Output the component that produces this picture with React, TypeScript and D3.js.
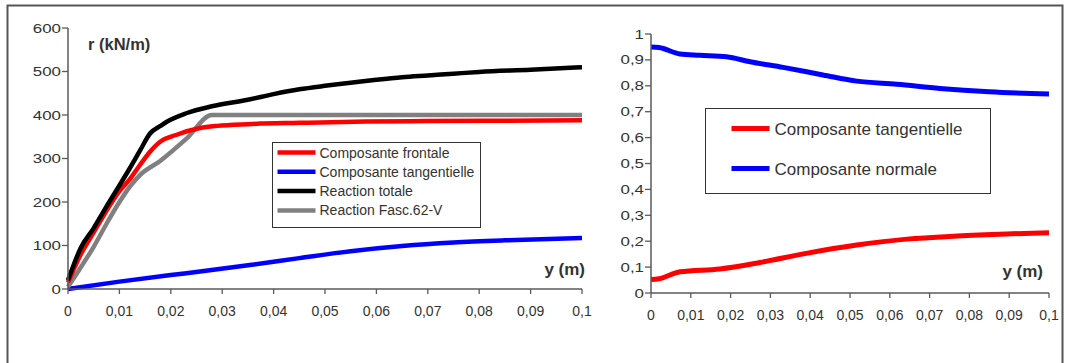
import React from 'react';
import * as d3 from 'd3';

// left panel: r (kN/m) vs y (m)
const frontX = [0, 0.0025, 0.005, 0.0075, 0.01, 0.012, 0.014, 0.016, 0.018, 0.021, 0.0257, 0.029, 0.035, 0.045, 0.058, 0.07, 0.085, 0.1];
const frontY = [15, 80, 130, 180, 225, 252, 285, 316, 339, 354, 370, 375, 379, 382, 385, 386, 387, 388];

const totalX = [0, 0.0025, 0.005, 0.0075, 0.01, 0.012, 0.014, 0.016, 0.018, 0.0193, 0.023, 0.028, 0.035, 0.04, 0.045, 0.05, 0.055, 0.06, 0.065, 0.07, 0.075, 0.08, 0.09, 0.1];
const totalY = [20, 95, 140, 190, 238, 277, 318, 358, 375, 385, 404, 420, 435, 448, 459, 467, 474, 481, 487, 491, 495, 499, 504, 510];

const fascX = [0, 0.0025, 0.005, 0.0075, 0.01, 0.012, 0.014, 0.018, 0.023, 0.028, 0.1];
const fascY = [5, 50, 97, 150, 200, 235, 262, 295, 345, 400, 400];

const tangX = [0, 0.01, 0.02, 0.0257, 0.0354, 0.045, 0.055, 0.065, 0.075, 0.085, 0.1];
const tangY = [0, 17, 32, 40, 55, 71, 87, 99, 107, 112, 117];

// right panel: ratios
const ratioNormX = [0, 0.002, 0.0073, 0.0123, 0.019, 0.0249, 0.0332, 0.0432, 0.0517, 0.0618, 0.0726, 0.085, 0.1];
const ratioNormY = [0.95, 0.948, 0.923, 0.918, 0.912, 0.893, 0.871, 0.842, 0.818, 0.806, 0.79, 0.777, 0.768];
const ratioTangX = [0, 0.002, 0.0073, 0.0173, 0.0274, 0.039, 0.0517, 0.0643, 0.0769, 0.0894, 0.1];
const ratioTangY = [0.052, 0.055, 0.082, 0.093, 0.118, 0.153, 0.185, 0.208, 0.22, 0.228, 0.233];

const xTicks = [0, 0.01, 0.02, 0.03, 0.04, 0.05, 0.06, 0.07, 0.08, 0.09, 0.1];
const leftYTicks = [0, 100, 200, 300, 400, 500, 600];
const rightYTicks = [0, 0.1, 0.2, 0.3, 0.4, 0.5, 0.6, 0.7, 0.8, 0.9, 1];

const leftLegend = [
  { label: 'Composante frontale', color: '#ff0000' },
  { label: 'Composante tangentielle', color: '#0000ff' },
  { label: 'Reaction totale', color: '#000000' },
  { label: 'Reaction Fasc.62-V', color: '#808080' },
];
const rightLegend = [
  { label: 'Composante tangentielle', color: '#ff0000' },
  { label: 'Composante normale', color: '#0000ff' },
];

const FONT = 'Liberation Sans, Arial, sans-serif';
const AXIS = '#5a5a5a';
const TEXT = '#333';

const fmt = (v: number) => String(+v.toFixed(2)).replace('.', ',');

function zip(xs: number[], ys: number[]): [number, number][] {
  return xs.map((x, i) => [x, ys[i]]);
}

interface PanelProps {
  x0: number; x1: number; y0: number; y1: number;
  yMax: number; yTicks: number[];
  series: { xs: number[]; ys: number[]; color: string }[];
  width: number;
}

function Panel({ x0, x1, y0, y1, yMax, yTicks, series, width }: PanelProps) {
  const xScale = d3.scaleLinear().domain([0, 0.1]).range([x0, x1]);
  const yScale = d3.scaleLinear().domain([0, yMax]).range([y0, y1]);
  const line = d3.line<[number, number]>()
    .x(d => xScale(d[0]))
    .y(d => yScale(d[1]))
    .curve(d3.curveMonotoneX);

  return (
    <g>
      {series.map((s, i) => (
        <path key={i} d={line(zip(s.xs, s.ys)) || ''} fill="none" stroke={s.color}
          strokeWidth={width} strokeLinejoin="round" />
      ))}
      {/* axes */}
      <line x1={x0} x2={x0} y1={y1} y2={y0} stroke={AXIS} strokeWidth={1.5} />
      <line x1={x0} x2={x1} y1={y0} y2={y0} stroke={AXIS} strokeWidth={1.5} />
      {yTicks.map(t => (
        <g key={'y' + t}>
          <line x1={x0 - 6} x2={x0} y1={yScale(t)} y2={yScale(t)} stroke={AXIS} strokeWidth={1.3} />
          <text transform={`translate(${x0 - 7},${yScale(t) + 4.5}) scale(1.3,1)`} textAnchor="end"
            fontSize={13} fill={TEXT} fontFamily={FONT}>{fmt(t)}</text>
        </g>
      ))}
      {xTicks.map(t => (
        <g key={'x' + t}>
          <line x1={xScale(t)} x2={xScale(t)} y1={y0} y2={y0 + 5} stroke={AXIS} strokeWidth={1.3} />
          <text x={xScale(t)} y={y0 + 27} textAnchor="middle" fontSize={14} fill={TEXT}
            fontFamily={FONT}>{fmt(t)}</text>
        </g>
      ))}
    </g>
  );
}

export default function App() {
  return (
    <svg width={1070} height={363} style={{ position: 'absolute', left: 0, top: 0, background: '#fff' }}>
      <rect x={7.5} y={5.5} width={1055} height={380} fill="none" stroke="#555" strokeWidth={2} />

      <Panel x0={68} x1={582} y0={289} y1={28} yMax={600} yTicks={leftYTicks} width={4.5}
        series={[
          { xs: tangX, ys: tangY, color: '#0000ff' },
          { xs: fascX, ys: fascY, color: '#808080' },
          { xs: frontX, ys: frontY, color: '#ff0000' },
          { xs: totalX, ys: totalY, color: '#000000' },
        ]} />
      <text x={88} y={50} fontSize={16.5} fontWeight="bold" fill={TEXT} fontFamily={FONT}>r (kN/m)</text>
      <text x={585} y={275} textAnchor="end" fontSize={17} fontWeight="bold" fill={TEXT} fontFamily={FONT}>y (m)</text>

      {/* left legend */}
      <g transform="translate(272.5,142.5)">
        <rect width={208} height={85} fill="#fff" stroke="#333" strokeWidth={1} />
        {leftLegend.map((item, i) => (
          <g key={item.label} transform={`translate(0,${10 + i * 19.3})`}>
            <line x1={5} x2={43} y1={0} y2={0} stroke={item.color} strokeWidth={4.5} />
            <text x={47} y={5} fontSize={14} fill={TEXT} fontFamily={FONT}>{item.label}</text>
          </g>
        ))}
      </g>

      <Panel x0={651} x1={1049} y0={293} y1={34} yMax={1} yTicks={rightYTicks} width={5}
        series={[
          { xs: ratioNormX, ys: ratioNormY, color: '#0000ff' },
          { xs: ratioTangX, ys: ratioTangY, color: '#ff0000' },
        ]} />
      <text x={1043} y={277} textAnchor="end" fontSize={17} fontWeight="bold" fill={TEXT} fontFamily={FONT}>y (m)</text>

      {/* right legend */}
      <g transform="translate(705.5,108.5)">
        <rect width={285} height={85} fill="#fff" stroke="#333" strokeWidth={1} />
        {rightLegend.map((item, i) => (
          <g key={item.label} transform={`translate(0,${20 + i * 40})`}>
            <line x1={26} x2={64} y1={0} y2={0} stroke={item.color} strokeWidth={5} />
            <text x={69} y={6} fontSize={17} fill={TEXT} fontFamily={FONT}>{item.label}</text>
          </g>
        ))}
      </g>
    </svg>
  );
}
